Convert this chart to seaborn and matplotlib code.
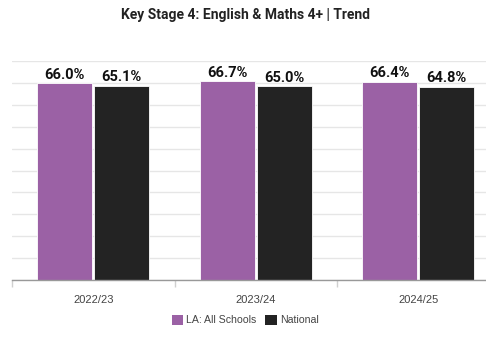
import matplotlib
matplotlib.use("Agg")
import matplotlib.pyplot as plt
from matplotlib.ticker import LinearLocator, FixedLocator
import seaborn as sns
import pandas as pd

years = ["2022/23", "2023/24", "2024/25"]
la_all_schools = [66.0, 66.7, 66.4]
national = [65.1, 65.0, 64.8]
series_names = ["LA: All Schools", "National"]
series_colors = ["#9b61a5", "#232323"]

df = pd.DataFrame({
    "year": years * 2,
    "value": la_all_schools + national,
    "series": [series_names[0]] * 3 + [series_names[1]] * 3,
})

sns.set_theme(style="white")
plt.rcParams["font.family"] = ["Roboto", "DejaVu Sans"]
label_font = ["Liberation Sans", "DejaVu Sans"]

fig = plt.figure(figsize=(4.86, 3.38), dpi=100)
W, H = 486, 338
# plot area runs slightly past the right edge of the canvas
ax = fig.add_axes([12 / W, 1 - 280 / H, 487.5 / W, 219 / H])

sns.barplot(data=df, x="year", y="value", hue="series", palette=series_colors,
            width=0.70, gap=0.03, ax=ax, legend=False, saturation=1,
            edgecolor="white", linewidth=0.6)

ymax = max(la_all_schools + national) * 1.1
ax.set_ylim(0, ymax)
ax.set_xlim(-0.5, 2.5)
ax.yaxis.set_major_locator(LinearLocator(11))
ax.grid(axis="y", color="#e6e6e6", linewidth=1)
ax.set_axisbelow(True)
ax.set_yticklabels([])
ax.tick_params(axis="y", length=0)
for s in ["top", "right", "left"]:
    ax.spines[s].set_visible(False)
ax.spines["bottom"].set_color("#999999")
ax.spines["bottom"].set_linewidth(1)
ax.set_xlabel("")
ax.set_ylabel("")

# category boundary ticks
ax.xaxis.set_minor_locator(FixedLocator([-0.5, 0.5, 1.5, 2.5]))
ax.tick_params(axis="x", which="minor", length=5, color="#d0d0d0", width=1, bottom=True)
ax.tick_params(axis="x", which="major", length=0, pad=11)
for lbl in ax.get_xticklabels():
    lbl.set_fontfamily(label_font)
    lbl.set_fontsize(8)
    lbl.set_color("#444444")

for cont in ax.containers:
    ax.bar_label(cont, labels=[f"{v:.1f}%" for v in cont.datavalues],
                 padding=1, fontsize=10.5, fontweight="bold", color="#111111")

fig.text(245 / W, 1 - 15 / H, "Key Stage 4: English & Maths 4+ | Trend",
         ha="center", va="center", fontsize=10, fontweight="bold", color="#222222")

handles = [plt.Rectangle((0, 0), 1, 1, facecolor=c, edgecolor="none") for c in series_colors]
leg = fig.legend(handles, series_names, loc="center", bbox_to_anchor=(245 / W, 1 - 320 / H),
                 ncol=2, frameon=False, handlelength=1.1, handleheight=1.1,
                 handletextpad=0.3, columnspacing=0.8,
                 prop={"family": label_font, "size": 7.6})
for t in leg.get_texts():
    t.set_color("#444444")

fig.savefig("out.png", dpi=100)
